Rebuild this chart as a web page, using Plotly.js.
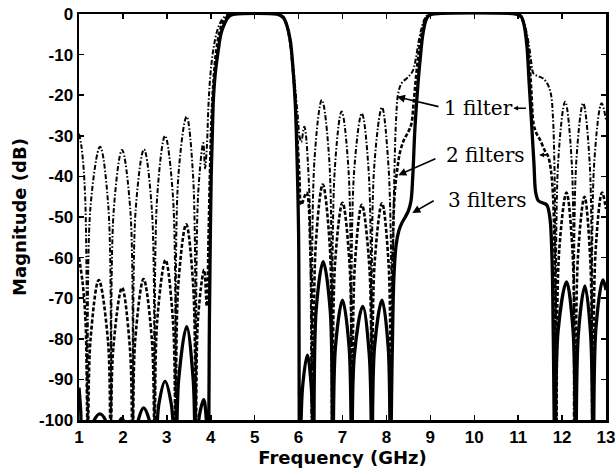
<!DOCTYPE html>
<html>
<head>
<meta charset="utf-8">
<script src="https://cdn.plot.ly/plotly-3.0.1.min.js"></script>
<style>
  html, body { margin: 0; padding: 0; background: #fff; }
  #chart { width: 615px; height: 473px; }
</style>
</head>
<body>
<div id="chart"></div>
<script>
// Dual-passband filter response: magnitude (dB) vs frequency (GHz)
// for one, two and three cascaded filters. Each entry is [GHz, dB].

const oneFilter = [
  [1.00,-29.5],[1.06,-33],[1.14,-45],[1.20,-105],
  [1.26,-47.7],[1.48,-32.7],[1.67,-47.7],[1.73,-105],
  [1.79,-48.5],[1.98,-33.5],[2.17,-48.5],[2.23,-105],
  [2.29,-48.3],[2.48,-33.3],[2.66,-48.3],[2.72,-105],
  [2.78,-45],[2.96,-30],[3.14,-45],[3.20,-105],
  [3.26,-40.3],[3.45,-25.3],[3.60,-40.3],[3.66,-105],
  [3.71,-45],[3.83,-31.8],[3.87,-38],
  [3.91,-33],[3.95,-22],[4.00,-14],[4.07,-8],[4.15,-4],[4.25,-1.5],[4.35,-0.4],[4.45,0],
  [5.55,0],
  [5.64,-0.6],[5.72,-2.5],[5.80,-6],[5.87,-12],[5.93,-19],[5.98,-25],[6.02,-30],[6.06,-31.5],
  [6.13,-27.8],[6.24,-42.8],[6.30,-105],
  [6.36,-36.2],[6.53,-21.2],[6.70,-36.2],[6.76,-105],
  [6.82,-39],[6.98,-24],[7.14,-39],[7.20,-105],
  [7.26,-39.5],[7.44,-24.5],[7.60,-39.5],[7.66,-105],
  [7.72,-38],[7.90,-23],[8.05,-38],[8.13,-70],
  [8.17,-45],[8.22,-26],[8.27,-19.5],[8.35,-17],[8.50,-15.5],[8.60,-14],[8.67,-11],[8.73,-7],[8.80,-3.5],[8.88,-1],[8.97,0],
  [10.95,0],
  [11.03,-0.5],[11.10,-1.5],[11.18,-4],[11.25,-8],[11.30,-12],[11.35,-14.7],[11.45,-15.3],[11.57,-15.9],
  [11.68,-17.5],[11.75,-20],[11.79,-25],[11.83,-40],[11.86,-105],
  [11.91,-36.6],[12.07,-21.6],[12.22,-36.6],[12.27,-105],
  [12.32,-37],[12.48,-22],[12.63,-37],[12.68,-105],
  [12.73,-37],[12.90,-22],[13.00,-26]
];

const twoFilters = [
  [1.00,-60],[1.08,-66],[1.15,-76],[1.20,-105],
  [1.26,-80.5],[1.45,-65.5],[1.66,-80.5],[1.72,-105],
  [1.78,-82.4],[1.98,-67.4],[2.16,-82.4],[2.22,-105],
  [2.28,-80.3],[2.47,-65.3],[2.66,-80.3],[2.72,-105],
  [2.78,-75.6],[2.97,-60.6],[3.14,-75.6],[3.20,-105],
  [3.26,-66.8],[3.44,-51.8],[3.60,-66.8],[3.66,-105],
  [3.71,-75],[3.85,-63],[3.91,-72],
  [3.95,-55],[3.98,-40],[4.01,-28],[4.06,-17],[4.12,-9.5],[4.20,-4.5],[4.30,-1.5],[4.42,-0.3],[4.50,0],
  [5.55,0],
  [5.63,-0.4],[5.72,-2.3],[5.80,-6.5],[5.86,-12.5],[5.92,-21],[5.97,-30],[6.02,-40],[6.06,-47],
  [6.18,-44],[6.27,-59],[6.33,-105],
  [6.39,-57],[6.55,-42],[6.71,-57],[6.77,-105],
  [6.83,-61.5],[7.00,-46.5],[7.16,-61.5],[7.22,-105],
  [7.28,-62],[7.44,-47],[7.61,-62],[7.67,-105],
  [7.73,-61.6],[7.90,-46.6],[8.05,-61.6],[8.10,-105],
  [8.14,-60],[8.19,-44],[8.25,-38],[8.31,-34],[8.40,-31],[8.50,-29],[8.57,-27],[8.62,-22],[8.67,-16],
  [8.73,-10],[8.80,-5],[8.87,-2],[8.95,-0.4],[9.02,0],
  [10.97,0],
  [11.05,-0.5],[11.12,-2],[11.19,-5.5],[11.25,-11],[11.30,-19],[11.35,-27],[11.42,-29.5],[11.50,-31],
  [11.60,-33.5],[11.68,-35],[11.74,-38],[11.79,-44],[11.83,-60],[11.87,-105],
  [11.93,-59],[12.10,-44],[12.24,-59],[12.30,-105],
  [12.36,-60],[12.51,-45],[12.64,-60],[12.70,-105],
  [12.76,-59],[12.91,-44],[13.00,-48]
];

const threeFilters = [
  [1.00,-92],[1.04,-98],[1.08,-110],
  [1.30,-101],[1.47,-98.5],[1.64,-101],[1.72,-110],
  [1.90,-101],[1.97,-99.6],[2.05,-101],[2.22,-110],
  [2.35,-100],[2.47,-97],[2.60,-100],[2.72,-110],
  [2.82,-96],[2.96,-90.5],[3.10,-96],[3.20,-110],
  [3.27,-90],[3.45,-77],[3.60,-90],[3.66,-110],
  [3.74,-99],[3.84,-95],[3.90,-100],[3.94,-110],
  [3.97,-75],[3.99,-55],[4.01,-40],[4.04,-28],[4.06,-21],[4.10,-15],[4.17,-9],[4.23,-5],[4.29,-3],
  [4.37,-1.2],[4.45,-0.3],[4.55,0],
  [5.50,0],
  [5.58,-0.3],[5.66,-1],[5.73,-2.7],[5.81,-6.4],[5.87,-13],[5.92,-21],[5.96,-33.5],[6.00,-54],[6.03,-110],
  [6.09,-92],[6.20,-84],[6.29,-92],[6.34,-110],
  [6.40,-73],[6.56,-61],[6.72,-73],[6.78,-110],
  [6.84,-82],[7.00,-70.5],[7.15,-82],[7.21,-110],
  [7.27,-84],[7.46,-72],[7.61,-84],[7.67,-110],
  [7.73,-82],[7.90,-70.5],[8.04,-82],[8.09,-110],
  [8.13,-85],[8.17,-65],[8.22,-57],[8.28,-53.5],[8.35,-51.5],[8.43,-50],[8.50,-48.5],[8.56,-46],
  [8.60,-40],[8.65,-28],[8.72,-17],[8.77,-11],[8.83,-5],[8.90,-1.5],[8.97,-0.3],[9.05,0],
  [10.95,0],
  [11.03,-0.3],[11.08,-0.8],[11.14,-3],[11.20,-8],[11.25,-17],[11.31,-27.7],[11.36,-37],[11.40,-44],
  [11.46,-46],[11.55,-46.5],[11.65,-47],[11.72,-50],[11.77,-60],[11.80,-80],[11.84,-110],
  [11.91,-78],[12.10,-66],[12.25,-78],[12.31,-110],
  [12.37,-79],[12.52,-67],[12.65,-79],[12.71,-110],
  [12.77,-77.5],[12.93,-65.5],[13.00,-68]
];

const seriesNames = ['1 filter', '2 filters', '3 filters'];
const xTicks = [1,2,3,4,5,6,7,8,9,10,11,12,13];
const yTicks = [0,-10,-20,-30,-40,-50,-60,-70,-80,-90,-100];

function trace(points, name, line) {
  return {
    x: points.map(p => p[0]),
    y: points.map(p => p[1]),
    name: name,
    type: 'scatter',
    mode: 'lines',
    line: Object.assign({color: '#000', shape: 'spline', smoothing: 1}, line),
    showlegend: false,
    hoverinfo: 'skip'
  };
}

const data = [
  trace(oneFilter, seriesNames[0], {width: 2, dash: '5px,2px,1.5px,2px'}),
  trace(twoFilters, seriesNames[1], {width: 2.6, dash: '4px,2px'}),
  trace(threeFilters, seriesNames[2], {width: 3.3})
];

const labelFont = {family: 'DejaVu Serif', size: 20, color: '#000'};
function label(text, x, y) {
  return {text: text, x: x, y: y, xref: 'x', yref: 'y', xanchor: 'left', yanchor: 'middle',
          showarrow: false, font: labelFont};
}
function arrow(x, y, ax, ay, size) {
  return {text: '', x: x, y: y, ax: ax, ay: ay, xref: 'x', yref: 'y', axref: 'x', ayref: 'y',
          showarrow: true, arrowhead: 2, arrowsize: size, arrowwidth: 1.6, arrowcolor: '#000'};
}

const tickFont = {family: 'Liberation Sans', size: 17, weight: 'bold', color: '#000'};
const titleFont = {family: 'DejaVu Sans', size: 18, weight: 'bold', color: '#000'};

const layout = {
  width: 615,
  height: 473,
  margin: {l: 79, r: 9, t: 14, b: 53},
  paper_bgcolor: '#fff',
  plot_bgcolor: '#fff',
  xaxis: {
    range: [1, 13],
    tickvals: xTicks,
    ticktext: xTicks.map(String),
    ticklabeloverflow: 'allow',
    ticks: 'inside', ticklen: 5, tickwidth: 1.5, tickcolor: '#000',
    showline: true, linewidth: 2.5, linecolor: '#000', mirror: 'ticks',
    showgrid: false, zeroline: false,
    tickfont: tickFont,
    title: {text: 'Frequency (GHz)', standoff: 4, font: titleFont}
  },
  yaxis: {
    range: [-100, 0],
    tickvals: yTicks,
    ticktext: yTicks.map(String),
    ticklabeloverflow: 'allow',
    ticks: 'inside', ticklen: 5, tickwidth: 1.5, tickcolor: '#000',
    showline: true, linewidth: 2.5, linecolor: '#000', mirror: 'ticks',
    showgrid: false, zeroline: false,
    tickfont: tickFont,
    title: {text: 'Magnitude (dB)', standoff: 8, font: titleFont}
  },
  annotations: [
    label('1 filter', 9.27, -23.2),
    label('2 filters', 9.32, -34.7),
    label('3 filters', 9.36, -45.8),
    arrow(8.24, -20.4, 9.22, -22.9, 1),
    arrow(8.27, -39.7, 9.15, -35.5, 1),
    arrow(8.59, -49.0, 9.11, -45.8, 1),
    arrow(10.89, -23.2, 11.21, -23.2, 0.6),
    arrow(11.48, -34.7, 11.68, -34.7, 0.6)
  ]
};

Plotly.newPlot('chart', data, layout, {displayModeBar: false, staticPlot: true});
</script>
</body>
</html>
